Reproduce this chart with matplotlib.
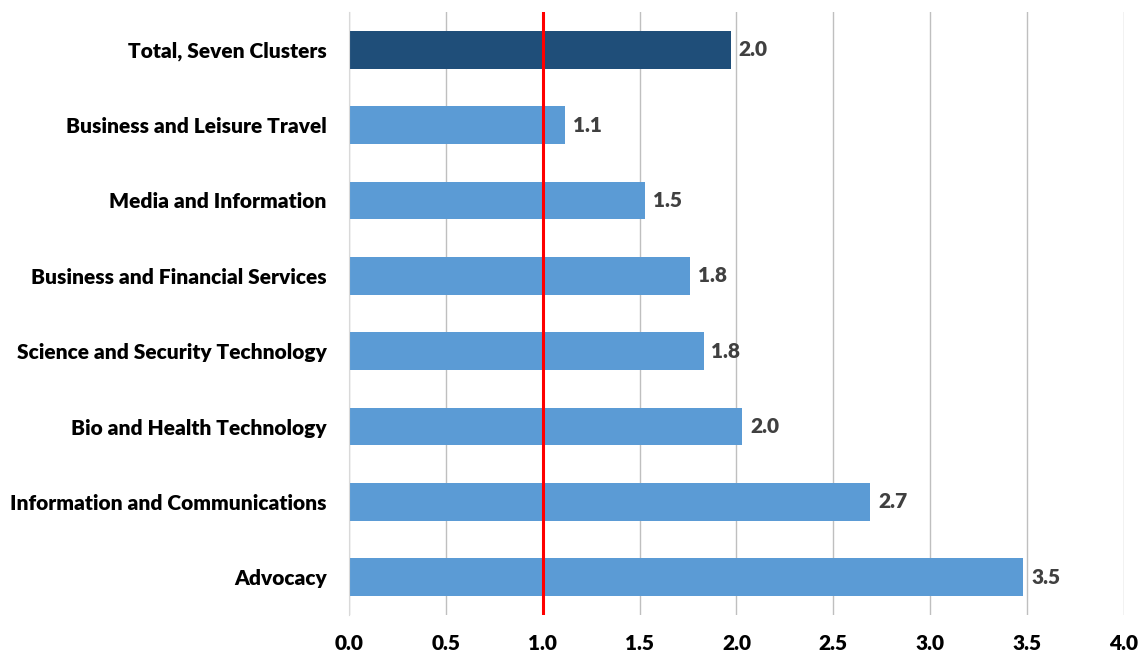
import matplotlib.pyplot as plt

plt.rcParams.update({'font.family': ['Lato', 'DejaVu Sans'], 'font.weight': 'heavy'})

categories = ['Total, Seven Clusters', 'Business and Leisure Travel', 'Media and Information',
              'Business and Financial Services', 'Science and Security Technology',
              'Bio and Health Technology', 'Information and Communications', 'Advocacy']
values = [1.97, 1.115, 1.53, 1.76, 1.83, 2.03, 2.69, 3.48]
bar_colors = ['#1F4E79'] + ['#5B9BD5'] * 7
ref_value = 1.0
xticks = [0.0, 0.5, 1.0, 1.5, 2.0, 2.5, 3.0, 3.5, 4.0]

fig = plt.figure(figsize=(11.43, 6.53), dpi=100)
ax = fig.add_axes([0.3053, 0.0582, 0.6781, 0.9234])

ypos = list(range(len(categories)))
ax.barh(ypos, values, height=0.5, color=bar_colors, zorder=2)
for y, v in zip(ypos, values):
    ax.text(v + 0.04, y, '{:.1f}'.format(v), va='center', ha='left',
            fontsize=15, fontweight='heavy', color='#404040', zorder=3)

ax.axvline(ref_value, color='#FF0000', lw=2.2, zorder=4)

ax.set_ylim(len(categories) - 0.5, -0.5)
ax.set_xlim(0, 4.0)
ax.set_yticks(ypos)
ax.set_yticklabels(categories, fontsize=15, fontweight='heavy', color='black')
ax.set_xticks(xticks)
ax.set_xticklabels(['{:.1f}'.format(t) for t in xticks], fontsize=15, fontweight='heavy')
ax.tick_params(axis='both', length=0)
ax.tick_params(axis='x', pad=14)
ax.tick_params(axis='y', pad=16)

ax.grid(axis='x', color='#BFBFBF', lw=1.0, zorder=0)
for s in ['top', 'right', 'bottom']:
    ax.spines[s].set_visible(False)
ax.spines['left'].set_color('#D9D9D9')

plt.savefig('out.png', dpi=100)
